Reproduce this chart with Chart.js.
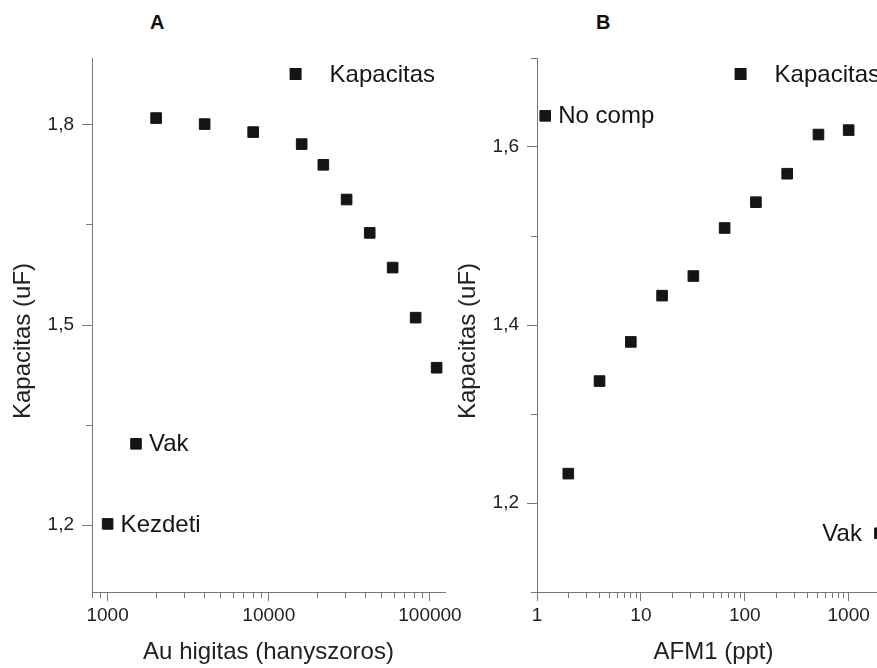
<!DOCTYPE html>
<html>
<head>
<meta charset="utf-8">
<title>Kapacitas</title>
<script src="https://cdn.jsdelivr.net/npm/chart.js@4.4.1/dist/chart.umd.min.js"></script>
<style>
  html, body { margin: 0; padding: 0; background: #fff; overflow: hidden; }
  body { width: 877px; height: 668px; position: relative; }
  .panel { position: absolute; top: 0; height: 668px; }
  #panelA { left: 0; width: 470px; }
  #panelB { left: 440px; width: 460px; }
  .letter { position: absolute; font: bold 20px "Liberation Sans", Arial, sans-serif; line-height: 20px; color: #111; }
</style>
</head>
<body>
<div class="letter" style="left:150px;top:12px">A</div>
<div class="letter" style="left:596px;top:12px">B</div>
<div id="panelA" class="panel"><canvas id="chartA"></canvas></div>
<div id="panelB" class="panel"><canvas id="chartB"></canvas></div>

<script>
// A: Au higitas
const dilutionA = [2000, 4000, 8000, 16000, 21800, 30400, 42300, 58700, 81500, 110000];
const capA = [1.810, 1.801, 1.789, 1.771, 1.740, 1.688, 1.638, 1.586, 1.511, 1.436];
const kezdetiX = [1000];
const kezdetiY = [1.202];
const vakAX = [1500];
const vakAY = [1.322];

// B: AFM1
const afm1B = [2, 4, 8, 16, 32, 64, 128, 256, 512, 1000];
const capB = [1.233, 1.337, 1.381, 1.433, 1.455, 1.509, 1.538, 1.570, 1.614, 1.619];
const noCompX = [1.2];
const noCompY = [1.635];
const vakBX = [2000];
const vakBY = [1.166];

// tengelyek
const xTicksA = [1000, 10000, 100000];
const yTicksA = [1.2, 1.5, 1.8];
const yMinorA = [1.35, 1.65];
const xTicksB = [1, 10, 100, 1000];
const yTicksB = [1.2, 1.4, 1.6];
const yMinorB = [1.1, 1.3, 1.5, 1.7];

const FONT = '"Liberation Sans", Arial, sans-serif';
const AXIS = '#777';
const INK = '#151515';
Chart.defaults.font.family = FONT;
Chart.defaults.color = '#222';

const pts = (xs, ys) => xs.map((x, i) => ({ x, y: ys[i] }));
const same = (a, b) => Math.abs(a - b) < 1e-9 * Math.max(1, Math.abs(b));

// 1..9 * 10^n a tartomanyon belul
function logTicks(min, max) {
  const out = [];
  for (let e = Math.floor(Math.log10(min)); e <= Math.ceil(Math.log10(max)); e++) {
    for (let k = 1; k <= 9; k++) {
      const v = k * Math.pow(10, e);
      if (v >= min && v <= max) out.push(v);
    }
  }
  return out;
}

// felirat a pont mellett
const pointTags = {
  id: 'pointTags',
  afterDatasetsDraw(chart) {
    const { ctx } = chart;
    ctx.save();
    ctx.font = '24px ' + FONT;
    ctx.fillStyle = INK;
    ctx.textBaseline = 'middle';
    chart.data.datasets.forEach((ds, i) => {
      if (!ds.tag) return;
      const p = chart.getDatasetMeta(i).data[0];
      const right = ds.tag === 'right';
      ctx.textAlign = right ? 'left' : 'right';
      ctx.fillText(ds.label, p.x + (right ? 13 : -18), p.y + 1);
    });
    ctx.restore();
  }
};

// jelmagyarazat a jobb felso sarokban + fuggoleges tengelycim
const cornerLegend = {
  id: 'cornerLegend',
  afterDraw(chart) {
    const { ctx, chartArea } = chart;
    const label = chart.data.datasets[0].label;
    ctx.save();
    ctx.font = '24px ' + FONT;
    const w = ctx.measureText(label).width;
    const tx = chartArea.right - 10 - w;
    const ty = chartArea.top + 16;
    ctx.fillStyle = INK;
    ctx.fillRect(tx - 34 - 6, ty - 6, 12, 12);
    ctx.textBaseline = 'middle';
    ctx.fillText(label, tx, ty + 1);

    // y tengely cime, kicsit a kozep alatt
    ctx.fillStyle = '#222';
    ctx.translate(chartArea.left - 69, (chartArea.top + chartArea.bottom) / 2 + 16);
    ctx.rotate(-Math.PI / 2);
    ctx.textAlign = 'center';
    ctx.fillText('Kapacitas (uF)', 0, 0);
    ctx.restore();
  }
};

function makeChart(id, cfg) {
  const marker = {
    pointStyle: 'rect', pointRadius: 7.5, pointHoverRadius: 7.5,
    backgroundColor: INK, borderColor: INK, borderWidth: 1, showLine: false
  };
  return new Chart(document.getElementById(id), {
    type: 'scatter',
    data: {
      datasets: cfg.datasets.map(d => Object.assign({}, marker, d))
    },
    options: {
      responsive: true,
      maintainAspectRatio: false,
      animation: false,
      events: [],
      layout: { autoPadding: false, padding: { top: 58, left: 0, right: cfg.padRight, bottom: 0 } },
      plugins: { legend: { display: false }, tooltip: { enabled: false } },
      scales: {
        x: {
          type: 'logarithmic',
          min: cfg.xMin, max: cfg.xMax,
          afterBuildTicks: s => { s.ticks = logTicks(cfg.xMin, cfg.xMax).map(v => ({ value: v })); },
          afterFit: s => { s.height = 76; },
          border: { display: true, color: AXIS, width: 1 },
          grid: {
            drawOnChartArea: false, tickLength: 9, tickColor: AXIS, tickWidth: 1,
            tickBorderDash: c => cfg.xTicks.some(t => same(t, c.tick.value)) ? [] : [5, 100]
          },
          ticks: {
            autoSkip: false, maxRotation: 0, padding: 3, color: '#222',
            font: { size: 19 },
            callback: v => cfg.xTicks.some(t => same(t, v)) ? String(v) : ''
          },
          title: {
            display: true, text: cfg.xTitle, color: '#222',
            font: { size: 24 }, padding: { top: 0, bottom: 1 }
          }
        },
        y: {
          type: 'linear',
          min: cfg.yMin, max: cfg.yMax,
          afterBuildTicks: s => {
            s.ticks = cfg.yTicks.concat(cfg.yMinor).sort((a, b) => a - b).map(v => ({ value: v }));
          },
          afterFit: s => { s.width = cfg.yWidth; },
          border: { display: true, color: AXIS, width: 1 },
          grid: {
            drawOnChartArea: false, tickLength: 10, tickColor: AXIS, tickWidth: 1,
            tickBorderDash: c => cfg.yTicks.some(t => same(t, c.tick.value)) ? [] : [0, 4, 6, 100]
          },
          ticks: {
            autoSkip: false, padding: 8, color: '#222',
            font: { size: 19 },
            callback: v => cfg.yTicks.some(t => same(t, v)) ? v.toFixed(1).replace('.', ',') : ''
          }
        }
      }
    },
    plugins: [pointTags, cornerLegend]
  });
}

makeChart('chartA', {
  xMin: 800, xMax: 124000, yMin: 1.1, yMax: 1.9,
  xTicks: xTicksA, yTicks: yTicksA, yMinor: yMinorA,
  yWidth: 92, padRight: 25,
  xTitle: 'Au higitas (hanyszoros)',
  datasets: [
    { label: 'Kapacitas', data: pts(dilutionA, capA) },
    { label: 'Kezdeti', data: pts(kezdetiX, kezdetiY), tag: 'right' },
    { label: 'Vak', data: pts(vakAX, vakAY), tag: 'right' }
  ]
});

makeChart('chartB', {
  xMin: 1, xMax: 2500, yMin: 1.1, yMax: 1.7,
  xTicks: xTicksB, yTicks: yTicksB, yMinor: yMinorB,
  yWidth: 97, padRight: 10,
  xTitle: 'AFM1 (ppt)',
  datasets: [
    { label: 'Kapacitas', data: pts(afm1B, capB) },
    { label: 'No comp', data: pts(noCompX, noCompY), tag: 'right' },
    { label: 'Vak', data: pts(vakBX, vakBY), tag: 'left' }
  ]
});
</script>
</body>
</html>
